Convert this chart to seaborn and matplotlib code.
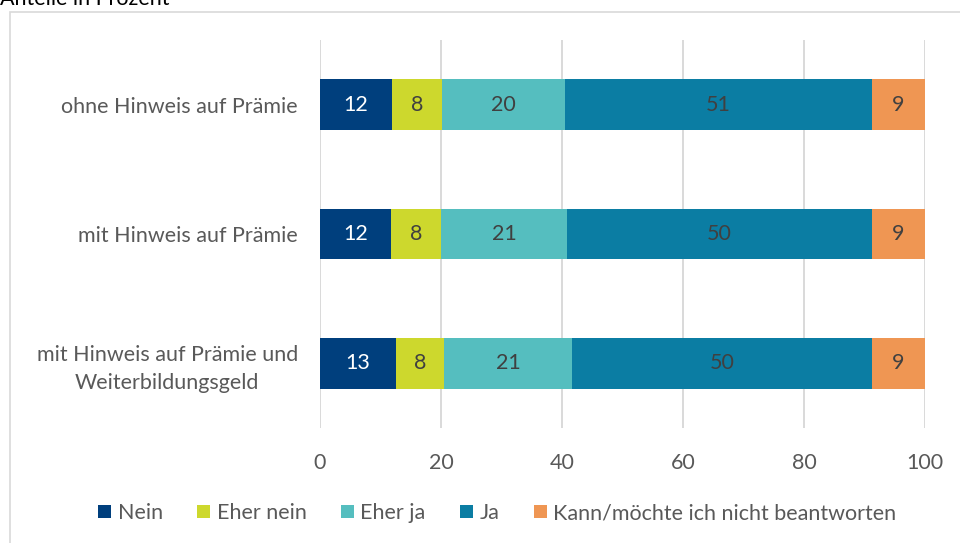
import numpy as np
import pandas as pd
import matplotlib
matplotlib.use('Agg')
import matplotlib.pyplot as plt
from matplotlib.patches import Rectangle, Patch
import seaborn as sns

# data (percent)
categories = ['ohne Hinweis auf Prämie',
              'mit Hinweis auf Prämie',
              'mit Hinweis auf Prämie und\nWeiterbildungsgeld']
series = ['Nein', 'Eher nein', 'Eher ja', 'Ja', 'Kann/möchte ich nicht beantworten']
nein = [11.9, 11.7, 12.6]
eher_nein = [8.3, 8.3, 7.9]
eher_ja = [20.3, 20.8, 21.2]
ja = [50.7, 50.4, 49.5]
kann = [8.8, 8.8, 8.8]
colors = ['#003F7D', '#CDD82D', '#55BEBF', '#0B7DA3', '#EF9653']
label_colors = ['white', '#404040', '#404040', '#404040', '#404040']

sns.set_theme(style='white')
plt.rcParams['font.family'] = ['Lato', 'DejaVu Sans']

df = pd.DataFrame({'Kategorie': categories, 'Nein': nein, 'Eher nein': eher_nein,
                   'Eher ja': eher_ja, 'Ja': ja,
                   'Kann/möchte ich nicht beantworten': kann})
cum = df[series].cumsum(axis=1)

fig = plt.figure(figsize=(9.6, 5.43), dpi=100)
ax = fig.add_axes([320 / 960, 1 - 428 / 543, 605 / 960, 388 / 543])

# draw the stacks from the outermost segment inwards
for i in range(len(series) - 1, -1, -1):
    sns.barplot(x=cum[series[i]], y=df['Kategorie'], color=colors[i], orient='h',
                width=0.39, saturation=1, linewidth=0, ax=ax, zorder=3)

# segment labels
for j in range(len(categories)):
    left = 0
    for i, s in enumerate(series):
        v = df.loc[j, s]
        ax.text(left + v / 2, j, f"{v:.0f}", ha='center', va='center',
                color=label_colors[i], fontsize=15.5, zorder=4)
        left += v

ax.set_xlim(0, 100)
ax.set_ylim(2.5, -0.5)
ax.set_xticks([0, 20, 40, 60, 80, 100])
ax.xaxis.grid(True, color='#D9D9D9', linewidth=1.4, zorder=0)
ax.yaxis.grid(False)
ax.set_axisbelow(True)
for sp in ax.spines.values():
    sp.set_visible(False)
ax.set_xlabel('')
ax.set_ylabel('')
ax.tick_params(axis='x', length=0, pad=18, labelsize=15.5, labelcolor='#595959')
ax.tick_params(axis='y', length=0, pad=16, labelsize=15.5, labelcolor='#595959')
for t in ax.get_yticklabels():
    t.set_multialignment('center')
    t.set_linespacing(1.45)

# chart border and cut-off title
fig.patches.append(Rectangle((10 / 960, -0.05), 1.0, 1 - 12 / 543 + 0.05,
                             transform=fig.transFigure, fill=False,
                             edgecolor='#D9D9D9', linewidth=1.2))
fig.text(0.0, 1 - 5 / 543, 'Anteile in Prozent', ha='left', va='baseline',
         fontsize=15.5, color='black')

handles = [Patch(facecolor=c, edgecolor='none') for c in colors]
fig.legend(handles, series, loc='center', bbox_to_anchor=(0.518, 1 - 513 / 543),
           ncol=5, frameon=False, fontsize=15.5, handlelength=0.6, handleheight=0.6,
           handletextpad=0.3, columnspacing=1.6, labelcolor='#595959')

fig.savefig('out.png', dpi=100)
